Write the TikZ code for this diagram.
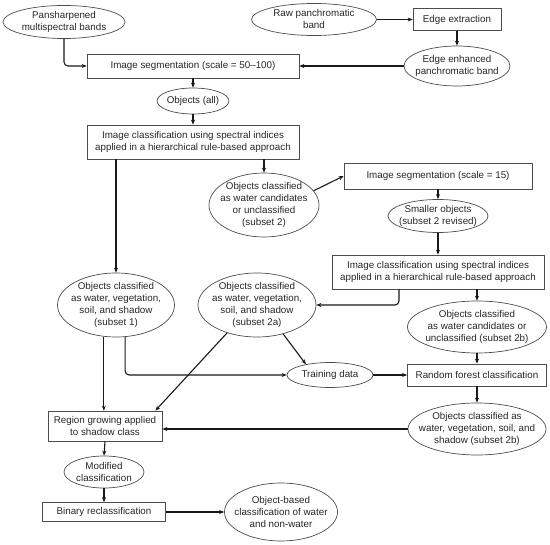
\documentclass[tikz,border=0pt]{standalone}
\usepackage{fontspec}
\setmainfont{Liberation Sans}
\usetikzlibrary{shapes.geometric,arrows.meta}
\begin{document}
\begin{tikzpicture}[x=1pt,y=-1pt,
  every node/.style={font=\fontsize{9.8}{12}\selectfont, text=black!85},
  box/.style={draw=black!70, line width=0.7pt, rectangle, align=center, inner sep=1pt},
  oval/.style={draw=black!70, line width=0.7pt, ellipse, align=center, inner xsep=-80pt, inner ysep=-80pt},
  arr/.style={-{Stealth[length=5pt,width=4pt]}, line width=1.1pt, draw=black!90, rounded corners=4pt}]
\useasboundingbox (0,0) rectangle (550,545);
% nodes
\node[oval, minimum width=122pt, minimum height=33pt] (pan) at (64,22) {Pansharpened\\multispectral bands};
\node[oval, minimum width=125pt, minimum height=32pt] (raw) at (314,19.5) {Raw panchromatic\\band};
\node[box, minimum width=88pt, minimum height=22pt] (edge) at (457,19.5) {Edge extraction};
\node[oval, minimum width=106pt, minimum height=40pt] (enh) at (457,66) {Edge enhanced\\panchromatic band};
\node[box, minimum width=212pt, minimum height=24pt] (seg1) at (193,66) {Image segmentation (scale = 50–100)};
\node[oval, minimum width=72pt, minimum height=26pt] (all) at (193,101) {Objects (all)};
\node[box, minimum width=212pt, minimum height=34pt] (cls1) at (193,142) {Image classification using spectral indices\\applied in a hierarchical rule-based approach};
\node[oval, minimum width=110pt, minimum height=64pt] (sub2) at (264,205) {Objects classified\\as water candidates\\or unclassified\\(subset 2)};
\node[box, minimum width=188pt, minimum height=26pt] (seg2) at (438,176) {Image segmentation (scale = 15)};
\node[oval, minimum width=100pt, minimum height=33pt] (small) at (438,216) {Smaller objects\\(subset 2 revised)};
\node[box, minimum width=212pt, minimum height=34pt] (cls2) at (438,272) {Image classification using spectral indices\\applied in a hierarchical rule-based approach};
\node[oval, minimum width=117pt, minimum height=64pt] (sub1) at (116,305) {Objects classified\\as water, vegetation,\\soil, and shadow\\(subset 1)};
\node[oval, minimum width=118pt, minimum height=64pt] (sub2a) at (257,305) {Objects classified\\as water, vegetation,\\soil, and shadow\\(subset 2a)};
\node[oval, minimum width=139pt, minimum height=52pt] (sub2b) at (477,327) {Objects classified\\as water candidates or\\unclassified (subset 2b)};
\node[oval, minimum width=86pt, minimum height=25pt] (train) at (330,375) {Training data};
\node[box, minimum width=139pt, minimum height=22pt] (rf) at (477,375) {Random forest classification};
\node[oval, minimum width=138pt, minimum height=52pt] (sub2c) at (477,429) {Objects classified as\\water, vegetation, soil, and\\shadow (subset 2b)};
\node[box, minimum width=114pt, minimum height=30pt] (region) at (105,426) {Region growing applied\\to shadow class};
\node[oval, minimum width=80pt, minimum height=32pt] (mod) at (104,472) {Modified\\classification};
\node[box, minimum width=123pt, minimum height=19pt] (bin) at (104,512) {Binary reclassification};
\node[oval, minimum width=113pt, minimum height=58pt] (final) at (281,512) {Object-based\\classification of water\\and non-water};
% connectors
\draw[arr] (pan.south) |- (seg1.west);
\draw[arr] (raw.east) -- (edge.west);
\draw[arr] (edge.south) -- (enh.north);
\draw[arr] (enh.west) -- (seg1.east);
\draw[arr] (seg1.south) -- (all.north);
\draw[arr] (all.south) -- (cls1.north);
\draw[arr] (cls1.south -| sub1.north) -- (sub1.north);
\draw[arr] (cls1.south -| sub2.north) -- (sub2.north);
\draw[arr] (sub2.16) -- (seg2.west);
\draw[arr] (seg2.south) -- (small.north);
\draw[arr] (small.south) -- (cls2.north);
\draw[arr] ([xshift=-39pt]cls2.south) |- (sub2a.east);
\draw[arr] (cls2.south -| sub2b.north) -- (sub2b.north);
\draw[arr] (sub2b.south) -- (rf.north);
\draw[arr] (rf.south) -- (sub2c.north);
\draw[arr] (sub2c.west) -- (sub2c.west -| region.east);
\draw[arr] (sub1.-111) -- (sub1.-111 |- region.north);
\draw[arr] (sub1.-74) |- (train.west);
\draw[arr] (sub2a.-137) -- ([xshift=-7pt]region.north east);
\draw[arr] (sub2a.-48) -- (train.156);
\draw[arr] (train.east) -- (rf.west);
\draw[arr] (region.south) -- (mod.north);
\draw[arr] (mod.south) -- (bin.north);
\draw[arr] (bin.east) -- (final.west);
\end{tikzpicture}
\end{document}
